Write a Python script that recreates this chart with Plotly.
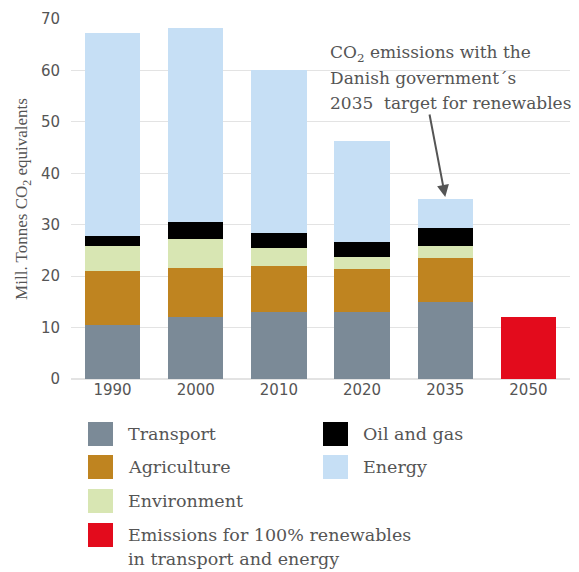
import plotly.graph_objects as go

years = ["1990", "2000", "2010", "2020", "2035", "2050"]
transport = [10.5, 12.1, 13.1, 13.1, 15.0, None]
agriculture = [10.5, 9.5, 8.9, 8.2, 8.5, None]
environment = [4.9, 5.6, 3.4, 2.5, 2.4, None]
oil_gas = [2.0, 3.3, 3.0, 2.8, 3.4, None]
energy = [39.4, 37.7, 31.6, 19.7, 5.7, None]
renewables_100 = [None, None, None, None, None, 12.0]

series = [
    ("Transport", transport, "#7b8a97"),
    ("Agriculture", agriculture, "#bf8420"),
    ("Environment", environment, "#d8e6b3"),
    ("Oil and gas", oil_gas, "#000000"),
    ("Energy", energy, "#c6dff5"),
    ("Emissions for 100% renewables<br>in transport and energy", renewables_100, "#e30b1c"),
]
callout_lines = ["CO<sub>2</sub> emissions with the", "Danish government\u00b4s",
                 "2035  target for renewables"]

OFF = 8  # page body margin
W, H = 579 - OFF, 572 - OFF
L, R, T, B = 63, 9, 11, 193
PW, PH = W - L - R, H - T - B

def px(x):
    return (x - OFF - L) / PW

def py(y):
    return (H - B - (y - OFF)) / PH

fig = go.Figure()
for name, vals, col in series:
    fig.add_trace(go.Bar(x=years, y=vals, name=name, marker_color=col,
                         marker_line_width=0, showlegend=False))

TXT = "#555555"
SERIF = "DejaVu Serif"

shapes = []
annotations = []
# manual legend layout: (series index, swatch x, swatch top y, text x)
legend_pos = [
    (0, 88, 422, 126),
    (1, 88, 455, 126),
    (2, 88, 489, 126),
    (3, 323, 422, 361),
    (4, 323, 455, 361),
    (5, 88, 523, 126),
]
for idx, sx, sy, tx in legend_pos:
    name, _, col = series[idx]
    shapes.append(dict(type="rect", xref="paper", yref="paper",
                       x0=px(sx), x1=px(sx + 25), y0=py(sy), y1=py(sy + 24),
                       fillcolor=col, line_width=0, layer="above"))
    for k, line in enumerate(name.split("<br>")):
        annotations.append(dict(xref="paper", yref="paper", x=px(tx),
                                y=py(sy + 12 + 24 * k),
                                xanchor="left", yanchor="middle", text=line,
                                showarrow=False, align="left",
                                font=dict(family=SERIF, size=17.5, color=TXT)))

# callout
for k, line in enumerate(callout_lines):
    annotations.append(dict(xref="paper", yref="paper", x=px(328), y=py(54 + 24.5 * k),
                            xanchor="left", yanchor="middle", text=line,
                            showarrow=False, align="left",
                            font=dict(family=SERIF, size=17, color=TXT)))
i35 = years.index("2035")
total_2035 = transport[i35] + agriculture[i35] + environment[i35] + oil_gas[i35] + energy[i35]
annotations.append(dict(x=i35, y=total_2035 + 0.4, xref="x", yref="y", text="",
                        showarrow=True, ax=-16, ay=-84, arrowhead=2, arrowsize=1.2,
                        arrowwidth=2, arrowcolor="#555555"))

fig.update_layout(
    barmode="stack",
    bargap=0.336,
    width=W, height=H,
    margin=dict(l=L, r=R, t=T, b=B, autoexpand=False),
    paper_bgcolor="white", plot_bgcolor="white",
    shapes=shapes, annotations=annotations,
    font=dict(family="DejaVu Sans", color=TXT),
    xaxis=dict(type="category", range=[-0.5, len(years) - 0.5], autorange=False,
               tickfont=dict(family="DejaVu Sans", size=15, color=TXT),
               showgrid=False, showline=False, ticks="", automargin=False),
    yaxis=dict(range=[0, 70], autorange=False, dtick=10, showgrid=True,
               gridcolor="#e3e3e3", gridwidth=1, zeroline=True,
               zerolinecolor="#e3e3e3",
               tickfont=dict(family="DejaVu Sans", size=15, color=TXT),
               ticks="", ticklen=0, ticklabelstandoff=10, automargin=False,
               title=dict(text="Mill. Tonnes CO<sub>2</sub> equivalents", standoff=8,
                          font=dict(family="Liberation Serif", size=17, color=TXT))),
)

fig.write_html("out.html")
